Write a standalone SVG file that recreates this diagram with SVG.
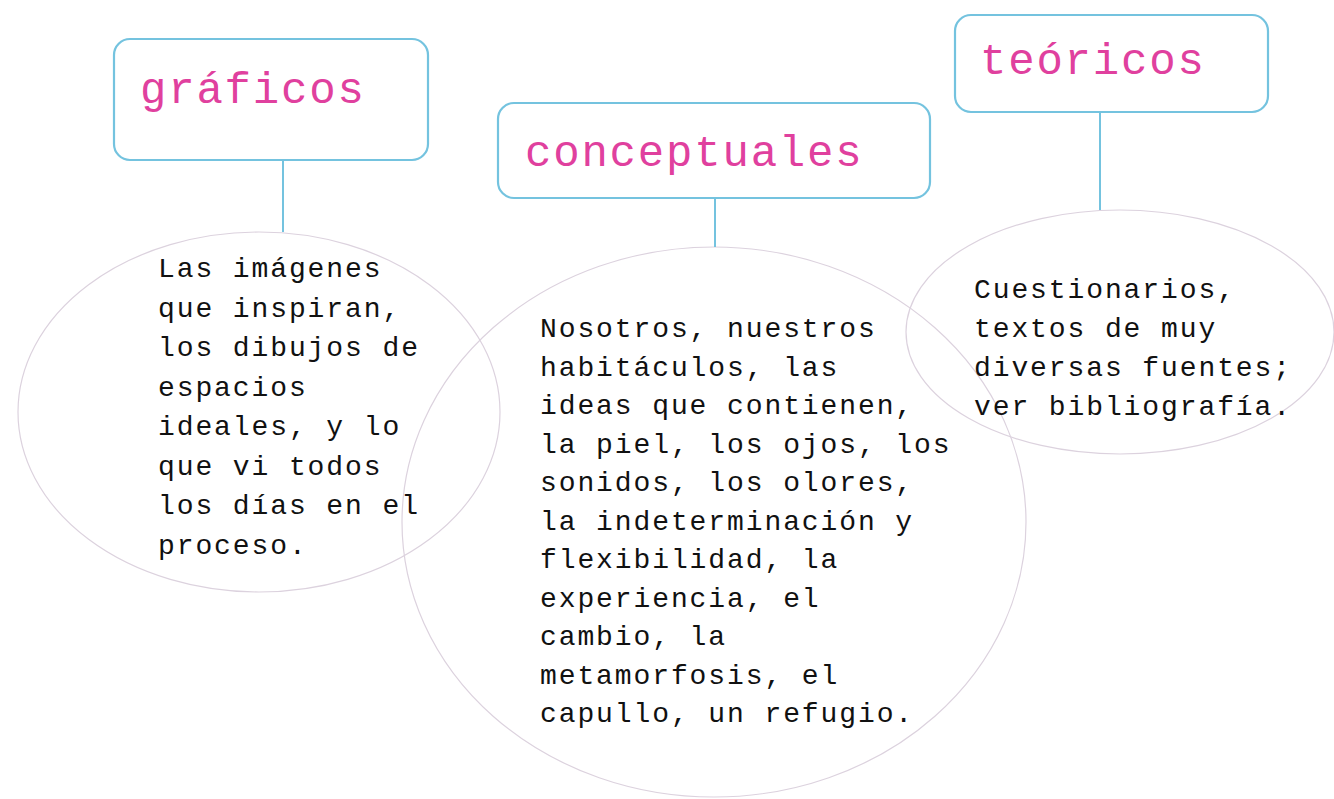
<svg xmlns="http://www.w3.org/2000/svg" width="1334" height="799" viewBox="0 0 1334 799">
<style>
.box{fill:#fff;stroke:#74c3df;stroke-width:2.2}
.conn{stroke:#74c3df;stroke-width:2;fill:none}
.bubble{fill:none;stroke:#dcd2de;stroke-width:1.2}
.title{font-family:"Liberation Mono",monospace;font-size:44px;letter-spacing:1.8px;fill:#e0409e}
.body{font-family:"Liberation Mono",monospace;font-size:28px;letter-spacing:1.9px;fill:#111}
</style>
<rect width="1334" height="799" fill="#fff"/>
<g id="bubbles">
<ellipse id="bubble-graficos" class="bubble" cx="259" cy="412" rx="241" ry="180"/>
<ellipse id="bubble-conceptuales" class="bubble" cx="714" cy="522" rx="312" ry="275"/>
<ellipse id="bubble-teoricos" class="bubble" cx="1120" cy="332" rx="214" ry="122"/>
</g>
<g id="connectors">
<line class="conn" x1="283" y1="160" x2="283" y2="232"/>
<line class="conn" x1="715" y1="198" x2="715" y2="247"/>
<line class="conn" x1="1100" y1="112" x2="1100" y2="210"/>
</g>
<g id="node-graficos">
<rect class="box" x="114" y="39" width="314" height="121" rx="16"/>
<text class="title" x="140" y="103">gráficos</text>
</g>
<g id="node-conceptuales">
<rect class="box" x="498" y="103" width="432" height="95" rx="16"/>
<text class="title" x="525" y="166">conceptuales</text>
</g>
<g id="node-teoricos">
<rect class="box" x="955" y="15" width="313" height="97" rx="16"/>
<text class="title" x="980" y="74">teóricos</text>
</g>
<g id="text-graficos">
<text class="body" x="158" y="277">
<tspan x="158" y="277">Las imágenes</tspan>
<tspan x="158" y="316.5">que inspiran,</tspan>
<tspan x="158" y="356">los dibujos de</tspan>
<tspan x="158" y="395.5">espacios</tspan>
<tspan x="158" y="435">ideales, y lo</tspan>
<tspan x="158" y="474.5">que vi todos</tspan>
<tspan x="158" y="514">los días en el</tspan>
<tspan x="158" y="553.5">proceso.</tspan>
</text>
</g>
<g id="text-conceptuales">
<text class="body" x="540" y="337">
<tspan x="540" y="337">Nosotros, nuestros</tspan>
<tspan x="540" y="375.5">habitáculos, las</tspan>
<tspan x="540" y="414">ideas que contienen,</tspan>
<tspan x="540" y="452.5">la piel, los ojos, los</tspan>
<tspan x="540" y="491">sonidos, los olores,</tspan>
<tspan x="540" y="529.5">la indeterminación y</tspan>
<tspan x="540" y="568">flexibilidad, la</tspan>
<tspan x="540" y="606.5">experiencia, el</tspan>
<tspan x="540" y="645">cambio, la</tspan>
<tspan x="540" y="683.5">metamorfosis, el</tspan>
<tspan x="540" y="722">capullo, un refugio.</tspan>
</text>
</g>
<g id="text-teoricos">
<text class="body" x="974" y="298">
<tspan x="974" y="298">Cuestionarios,</tspan>
<tspan x="974" y="337">textos de muy</tspan>
<tspan x="974" y="376">diversas fuentes;</tspan>
<tspan x="974" y="415">ver bibliografía.</tspan>
</text>
</g>
</svg>
